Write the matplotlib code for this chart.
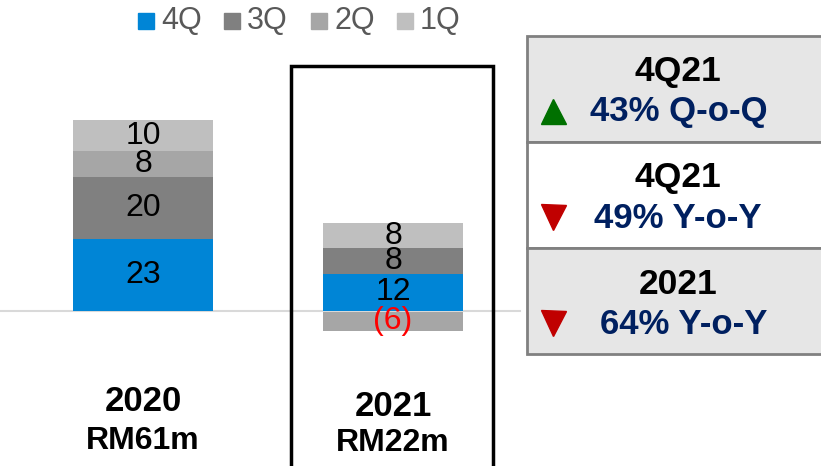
import matplotlib.pyplot as plt
from matplotlib.patches import Rectangle

plt.rcParams['font.family'] = ['Liberation Sans', 'DejaVu Sans']

# data
years = ['2020', '2021']
totals = ['RM61m', 'RM22m']
quarters = ['4Q', '3Q', '2Q', '1Q']
q_values = {
    '4Q': [23, 12],
    '3Q': [20, 8],
    '2Q': [8, -6],
    '1Q': [10, 8],
}
colors = {'4Q': '#0085d6', '3Q': '#808080', '2Q': '#a6a6a6', '1Q': '#bfbfbf'}

box_titles = ['4Q21', '4Q21', '2021']
box_changes = ['43% Q-o-Q', '49% Y-o-Y', '64% Y-o-Y']
box_up = [True, False, False]

W, H = 821, 466
fig = plt.figure(figsize=(W / 100, H / 100), dpi=100)
ax = fig.add_axes([0, 0, 1, 1])
ax.set_xlim(-0.572, 2.712)
ax.set_ylim(-49.5, 99.4)
ax.axis('off')

x = list(range(len(years)))
bw = 0.56

# baseline
ax.plot([-0.572, 1.508], [0, 0], color='#d9d9d9', lw=1.5, zorder=1)

pos_bottom = [0, 0]
neg_bottom = [0, 0]
for q in quarters:
    for i, v in enumerate(q_values[q]):
        if v >= 0:
            b = pos_bottom[i]
            pos_bottom[i] += v
        else:
            b = neg_bottom[i] - 0.3
            neg_bottom[i] += v
        ax.bar(x[i], v, bw, bottom=b, color=colors[q], zorder=2)
        lbl = str(v) if v >= 0 else '(%d)' % -v
        ax.text(x[i], b + v / 2, lbl, ha='center', va='center', fontsize=23,
                color='black' if v >= 0 else '#ff0000', zorder=3)

# year labels
for i in x:
    ax.text(x[i], -29 - i * 1.6, years[i], ha='center', va='center',
            fontsize=25, fontweight='bold')
    ax.text(x[i], -41.5 - i * 0.6, totals[i], ha='center', va='center',
            fontsize=23, fontweight='bold')

# highlight frame around 2021
ax.add_patch(Rectangle((0.592, -60), 0.808, 138.3, fill=False,
                       edgecolor='black', lw=2.5, zorder=4, clip_on=False))

# legend
leg_x = [138, 224, 311, 397]
for q, lx in zip(quarters, leg_x):
    fig.add_artist(Rectangle((lx / W, 1 - 29 / H), 16 / W, 16 / H,
                             color=colors[q], transform=fig.transFigure))
    fig.text((lx + 23) / W, 1 - 21 / H, q, fontsize=22, color='#595959',
             va='center', ha='left')

# right side boxes
box_left, box_top, box_h = 527, 36, 106
fills = ['#e6e6e6', 'white', '#e6e6e6']
change_x = [679, 678, 684]
for k in range(3):
    top = box_top + k * box_h
    fig.add_artist(Rectangle((box_left / W, 1 - (top + box_h) / H),
                             (W - box_left + 5) / W, box_h / H,
                             facecolor=fills[k], edgecolor='#808080', lw=2,
                             transform=fig.transFigure))
    fig.text(678 / W, 1 - (top + 36) / H, box_titles[k], fontsize=25.5,
             fontweight='bold', ha='center', va='center')
    fig.text(change_x[k] / W, 1 - (top + 76) / H, box_changes[k], fontsize=25,
             fontweight='bold', ha='center', va='center', color='#002060')
    fig.lines.append(plt.Line2D([553 / W], [1 - (top + 75) / H],
                                marker='^' if box_up[k] else 'v',
                                markersize=18,
                                color='#007000' if box_up[k] else '#c00000',
                                transform=fig.transFigure, figure=fig))

fig.savefig('out.png', dpi=100)
